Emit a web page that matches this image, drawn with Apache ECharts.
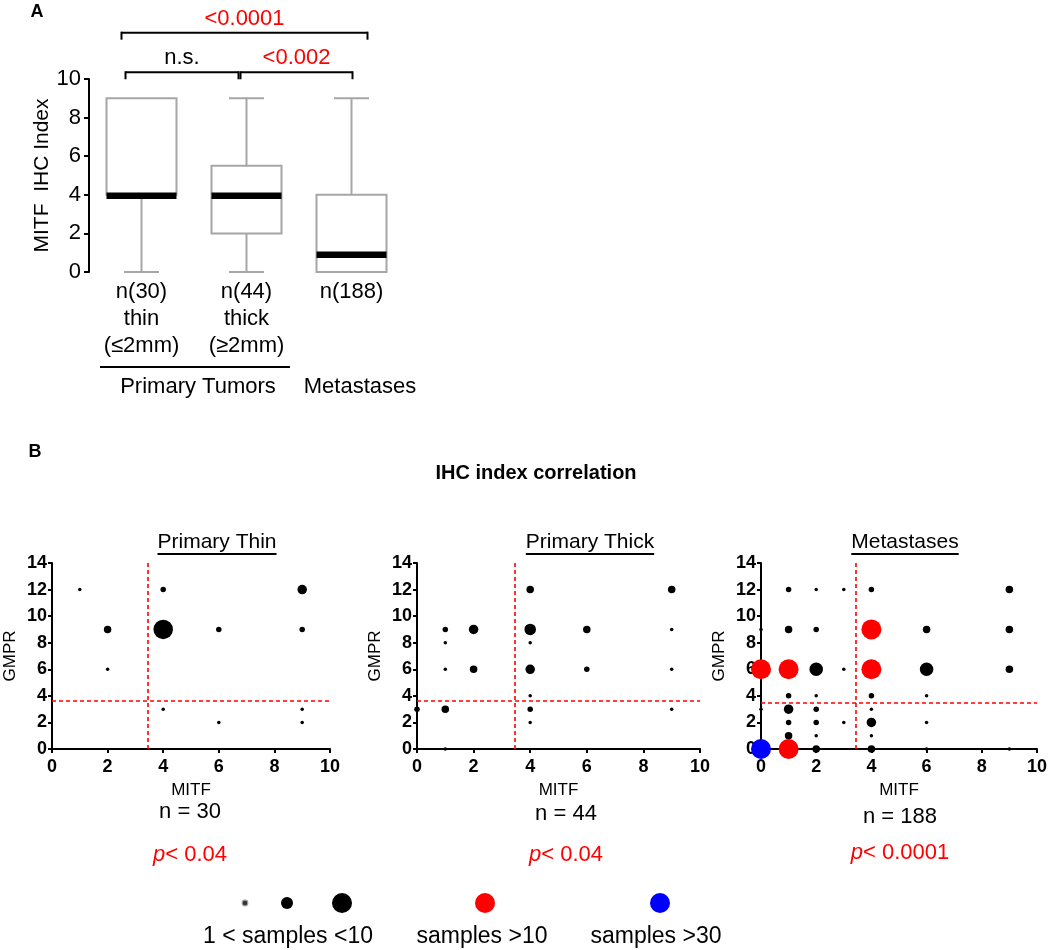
<!DOCTYPE html>
<html><head><meta charset="utf-8">
<script src="https://cdn.jsdelivr.net/npm/echarts@6/dist/echarts.min.js"></script>
<style>html,body{margin:0;padding:0;background:#fff}#c{width:1050px;height:950px}</style>
</head><body><div id="c"></div>
<script>
// ---------- Panel A data ----------
const boxCategories = ['n(30)\nthin\n(≤2mm)', 'n(44)\nthick\n(≥2mm)', 'n(188)'];
const boxMin = [0, 0, 0];
const boxQ1 = [4, 2, 0];
const boxMedian = [3.95, 3.95, 0.9];
const boxQ3 = [9, 5.5, 4];
const boxMax = [9, 9, 9];
const bracketFrom = [0, 0, 1];
const bracketTo = [2, 1, 2];
const bracketLevel = [12.4, 10.35, 10.35];
const bracketLabels = ['<0.0001', 'n.s.', '<0.002'];
const bracketSignificant = [true, false, true];

// ---------- Panel B data ----------
const panelTitles = ['Primary Thin', 'Primary Thick', 'Metastases'];
const panelN = [30, 44, 188];
const panelP = ['0.04', '0.04', '0.0001'];
// [MITF, GMPR, number of samples]
const thinPoints = [
  [1,12,1],[2,9,3],[2,6,1],[4,12,2],[4,9,9],[6,9,2],[9,12,4],[9,9,2],
  [4,3,1],[6,2,1],[9,3,1],[9,2,1]
];
const thickPoints = [
  [0,3,2],[1,9,2],[1,8,1],[1,6,1],[1,3,3],[1,0,1],[2,9,4],[2,6,3],
  [4,12,3],[4,9,5],[4,8,1],[4,6,4],[4,4,1],[4,3,2],[4,2,1],
  [6,9,3],[6,6,2],[9,12,3],[9,9,1],[9,6,1],[9,3,1]
];
const metPoints = [
  [0,9,1],[0,6,15],[0,3,1],[0,0,35],
  [1,12,2],[1,9,3],[1,6,15],[1,4,2],[1,3,4],[1,2,2],[1,1,3],[1,0,15],
  [2,12,1],[2,9,2],[2,6,6],[2,4,1],[2,3,2],[2,2,2],[2,1,1],[2,0,3],
  [3,12,1],[3,6,1],[3,2,1],
  [4,12,2],[4,9,15],[4,6,15],[4,4,2],[4,3,1],[4,2,4],[4,1,1],[4,0,3],
  [6,9,3],[6,6,6],[6,4,1],[6,2,1],[6,0,1],
  [9,12,3],[9,9,3],[9,6,3],[9,0,1]
];
const panelPoints = [thinPoints, thickPoints, metPoints];
const cutoffMITF = [3.45, 3.45, 3.45];
const cutoffGMPR = [3.6, 3.6, 3.5];
const legendLabels = ['1 < samples <10', 'samples >10', 'samples >30'];

// ---------- helpers ----------
const FONT = "'Liberation Sans', Arial, sans-serif";
function sizeFor(n) { return n > 10 ? 20 : 1.5 + 2 * n; }
function colorFor(n) { return n > 30 ? '#0000ff' : (n > 10 ? '#ff0000' : '#000000'); }
const mctx = document.createElement('canvas').getContext('2d');
function textWidth(t, font) { mctx.font = font; return mctx.measureText(t).width; }

const chart = echarts.init(document.getElementById('c'));

const scatterLeft = [52, 417, 761];
const scatterWidth = [278, 283, 279];
const grids = [{ left: 89, top: 79, width: 315, height: 193 }];
for (let k = 0; k < 3; k++) grids.push({ left: scatterLeft[k], top: 563, width: scatterWidth[k], height: 186 });

const axisLineStyle = { show: true, lineStyle: { color: '#000', width: 2 } };
const xAxes = [{
  type: 'category', gridIndex: 0, data: boxCategories,
  axisLine: { show: false }, axisTick: { show: false },
  axisLabel: { color: '#000', fontSize: 22, fontFamily: FONT, lineHeight: 27, margin: 6, interval: 0 }
}];
const yAxes = [{
  type: 'value', gridIndex: 0, min: 0, max: 10, interval: 2,
  axisLine: axisLineStyle, axisTick: { show: true, length: 5, lineStyle: { color: '#000', width: 2 } },
  splitLine: { show: false },
  axisLabel: { color: '#000', fontSize: 22, fontFamily: FONT, margin: 8 },
  name: 'MITF  IHC Index', nameLocation: 'middle', nameGap: 36, nameRotate: 90,
  nameTextStyle: { color: '#000', fontSize: 21, fontFamily: FONT }
}];
for (let k = 0; k < 3; k++) {
  xAxes.push({
    type: 'value', gridIndex: k + 1, min: 0, max: 10, interval: 2,
    axisLine: axisLineStyle, axisTick: { show: true, length: 4, lineStyle: { color: '#000', width: 2 } },
    splitLine: { show: false },
    axisLabel: { color: '#000', fontSize: 18, fontWeight: 'bold', fontFamily: FONT, margin: 9 },
    name: 'MITF', nameLocation: 'middle', nameGap: 33,
    nameTextStyle: { color: '#000', fontSize: 17, fontFamily: FONT }
  });
  yAxes.push({
    type: 'value', gridIndex: k + 1, min: 0, max: 14, interval: 2,
    axisLine: axisLineStyle, axisTick: { show: true, length: 4, lineStyle: { color: '#000', width: 2 } },
    splitLine: { show: false },
    axisLabel: { color: '#000', fontSize: 18, fontWeight: 'bold', fontFamily: FONT, margin: 5 },
    name: 'GMPR', nameLocation: 'middle', nameGap: 33, nameRotate: 90,
    nameTextStyle: { color: '#000', fontSize: 17, fontFamily: FONT }
  });
}

const series = [];
// box plot (custom)
series.push({
  type: 'custom', xAxisIndex: 0, yAxisIndex: 0, clip: false, silent: true,
  data: boxCategories.map((c, i) => [i, boxMin[i], boxQ1[i], boxMedian[i], boxQ3[i], boxMax[i]]),
  encode: { x: 0, y: [1, 2, 3, 4, 5] },
  renderItem: function (params, api) {
    const i = api.value(0);
    const mn = api.value(1), q1 = api.value(2), md = api.value(3), q3 = api.value(4), mx = api.value(5);
    const cx = api.coord([i, 0])[0];
    const Y = v => api.coord([i, v])[1];
    const hw = 35, cw = 17.5;
    const gray = { stroke: '#a6a6a6', lineWidth: 2 };
    const ch = [];
    if (mx > q3) {
      ch.push({ type: 'line', shape: { x1: cx, y1: Y(q3), x2: cx, y2: Y(mx) }, style: gray });
      ch.push({ type: 'line', shape: { x1: cx - cw, y1: Y(mx), x2: cx + cw, y2: Y(mx) }, style: gray });
    }
    if (mn < q1) {
      ch.push({ type: 'line', shape: { x1: cx, y1: Y(q1), x2: cx, y2: Y(mn) }, style: gray });
      ch.push({ type: 'line', shape: { x1: cx - cw, y1: Y(mn), x2: cx + cw, y2: Y(mn) }, style: gray });
    }
    ch.push({ type: 'rect', shape: { x: cx - hw, y: Y(q3), width: 2 * hw, height: Y(q1) - Y(q3) },
      style: { stroke: '#a6a6a6', lineWidth: 2, fill: 'rgba(255,255,255,0)' } });
    ch.push({ type: 'line', shape: { x1: cx - hw, y1: Y(md), x2: cx + hw, y2: Y(md) },
      style: { stroke: '#000', lineWidth: 6.5 } });
    return { type: 'group', children: ch };
  }
});
// significance brackets (custom)
const bracketDx = [[-20, 16], [-16, -8], [-6, 1]];
series.push({
  type: 'custom', xAxisIndex: 0, yAxisIndex: 0, clip: false, silent: true,
  data: bracketFrom.map((f, i) => [f, bracketTo[i], bracketLevel[i], i]),
  encode: { x: [0, 1], y: 2 },
  renderItem: function (params, api) {
    const i = api.value(3);
    const p1 = api.coord([api.value(0), api.value(2)]);
    const p2 = api.coord([api.value(1), api.value(2)]);
    const x1 = p1[0] + bracketDx[i][0], x2 = p2[0] + bracketDx[i][1], y = p1[1];
    const st = { stroke: '#000', lineWidth: 2 };
    return { type: 'group', children: [
      { type: 'line', shape: { x1: x1, y1: y, x2: x2, y2: y }, style: st },
      { type: 'line', shape: { x1: x1, y1: y - 1, x2: x1, y2: y + 7 }, style: st },
      { type: 'line', shape: { x1: x2, y1: y - 1, x2: x2, y2: y + 7 }, style: st },
      { type: 'text', x: (x1 + x2) / 2, y: y - 14, style: { text: bracketLabels[i], fill: bracketSignificant[i] ? '#ff0000' : '#000',
        font: '22px ' + FONT, align: 'center', verticalAlign: 'middle' } }
    ] };
  }
});
// scatter panels
for (let k = 0; k < 3; k++) {
  series.push({
    type: 'scatter', xAxisIndex: k + 1, yAxisIndex: k + 1, clip: false, silent: true,
    data: panelPoints[k],
    symbolSize: v => sizeFor(v[2]),
    itemStyle: { color: p => colorFor(p.value[2]), opacity: 1 },
    markLine: {
      silent: true, symbol: ['none', 'none'], label: { show: false },
      lineStyle: { color: '#ff0000', type: [4, 3], width: 1.6 },
      emphasis: { disabled: true },
      data: [{ xAxis: cutoffMITF[k] }, { yAxis: cutoffGMPR[k] }]
    }
  });
}

// ---------- annotations ----------
const graphic = [];
graphic.push({ type: 'text', x: 37, y: 12, style: { text: 'A', font: 'bold 18px ' + FONT, fill: '#000', align: 'center', verticalAlign: 'middle' } });
graphic.push({ type: 'text', x: 35, y: 452, style: { text: 'B', font: 'bold 18px ' + FONT, fill: '#000', align: 'center', verticalAlign: 'middle' } });
graphic.push({ type: 'text', x: 536, y: 473, style: { text: 'IHC index correlation', font: 'bold 20px ' + FONT, fill: '#000', align: 'center', verticalAlign: 'middle' } });
graphic.push({ type: 'line', shape: { x1: 100, y1: 367, x2: 290, y2: 367 }, style: { stroke: '#000', lineWidth: 2 } });
graphic.push({ type: 'text', x: 198, y: 387, style: { text: 'Primary Tumors', font: '22px ' + FONT, fill: '#000', align: 'center', verticalAlign: 'middle' } });
graphic.push({ type: 'text', x: 360, y: 387, style: { text: 'Metastases', font: '22px ' + FONT, fill: '#000', align: 'center', verticalAlign: 'middle' } });

const titleX = [217, 590, 905];
const nX = [190, 566, 900], nY = [812, 814, 817], pY = [855, 855, 853];
for (let k = 0; k < 3; k++) {
  const tf = '21px ' + FONT;
  const w = textWidth(panelTitles[k], tf);
  graphic.push({ type: 'text', x: titleX[k], y: 542, style: { text: panelTitles[k], font: tf, fill: '#000', align: 'center', verticalAlign: 'middle' } });
  graphic.push({ type: 'line', shape: { x1: titleX[k] - w / 2, y1: 554, x2: titleX[k] + w / 2, y2: 554 }, style: { stroke: '#000', lineWidth: 2 } });
  graphic.push({ type: 'text', x: nX[k], y: nY[k], style: { text: 'n = ' + panelN[k], font: '22px ' + FONT, fill: '#000', align: 'center', verticalAlign: 'middle' } });
  graphic.push({ type: 'text', x: nX[k], y: pY[k], style: {
    text: '{i|p}{r|< ' + panelP[k] + '}', align: 'center', verticalAlign: 'middle',
    rich: { i: { fontStyle: 'italic', fontSize: 22, fontFamily: FONT, fill: '#ff0000', color: '#ff0000' },
            r: { fontSize: 22, fontFamily: FONT, fill: '#ff0000', color: '#ff0000' } } } });
}
// legend
const legendDots = [
  { x: 245, r: 2.8, fill: '#333', stroke: '#999' },
  { x: 287, r: 6, fill: '#000' },
  { x: 342, r: 10, fill: '#000' },
  { x: 485, r: 10, fill: colorFor(15) },
  { x: 660, r: 10, fill: colorFor(35) }
];
legendDots.forEach(d => graphic.push({ type: 'circle', shape: { cx: d.x, cy: 903, r: d.r },
  style: { fill: d.fill, stroke: d.stroke || null, lineWidth: d.stroke ? 1.2 : 0 } }));
const legendTextX = [288, 482, 656];
legendLabels.forEach((t, i) => graphic.push({ type: 'text', x: legendTextX[i], y: 937,
  style: { text: t, font: '23px ' + FONT, fill: '#000', align: 'center', verticalAlign: 'middle' } }));

chart.setOption({
  animation: false,
  backgroundColor: '#fff',
  grid: grids,
  xAxis: xAxes,
  yAxis: yAxes,
  series: series,
  graphic: graphic
});
</script>
</body></html>
